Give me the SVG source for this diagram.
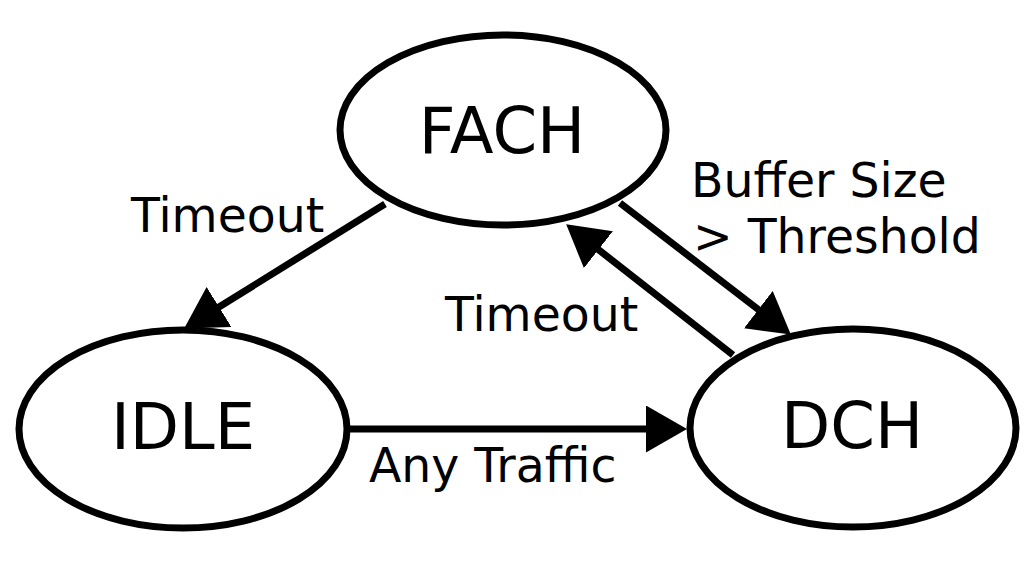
<svg xmlns="http://www.w3.org/2000/svg" width="1036" height="562" viewBox="0 0 1036 562">
<style>
.node ellipse{fill:#fff;stroke:#000;stroke-width:7}
.node text{font-family:"DejaVu Sans",sans-serif;font-size:64px;fill:#000;text-anchor:middle}
.edge line{stroke:#000;stroke-width:7}
.lbl{font-family:"DejaVu Sans",sans-serif;font-size:47.3px;fill:#000}
</style>
<defs>
<marker id="ah" markerUnits="userSpaceOnUse" markerWidth="42" markerHeight="48" refX="20" refY="23.5" orient="auto" viewBox="0 0 42 48">
<path d="M0,0 L41,23.5 L0,47 z" fill="#000"/>
</marker>
</defs>
<rect width="1036" height="562" fill="#fff"/>
<g id="connectors" class="edge">
<line x1="385" y1="204" x2="202" y2="317.5" marker-end="url(#ah)"/>
<line x1="620" y1="203" x2="774.2" y2="321.8" marker-end="url(#ah)"/>
<line x1="733" y1="355" x2="582.7" y2="237.3" marker-end="url(#ah)"/>
<line x1="346" y1="429" x2="666" y2="429" marker-end="url(#ah)"/>
</g>
<g id="FACH" class="node">
<ellipse cx="503" cy="130" rx="163" ry="95"/>
<text x="502" y="153">FACH</text>
</g>
<g id="IDLE" class="node">
<ellipse cx="183" cy="429" rx="164" ry="99"/>
<text x="183" y="449">IDLE</text>
</g>
<g id="DCH" class="node">
<ellipse cx="853" cy="428" rx="163" ry="99"/>
<text x="852" y="448">DCH</text>
</g>
<g id="labels">
<text class="lbl" x="131" y="232">Timeout</text>
<text class="lbl" x="691" y="197">Buffer Size</text>
<text class="lbl" x="693" y="253">&gt; Threshold</text>
<text class="lbl" x="445" y="331">Timeout</text>
<text class="lbl" x="369" y="482">Any Traffic</text>
</g>
</svg>
